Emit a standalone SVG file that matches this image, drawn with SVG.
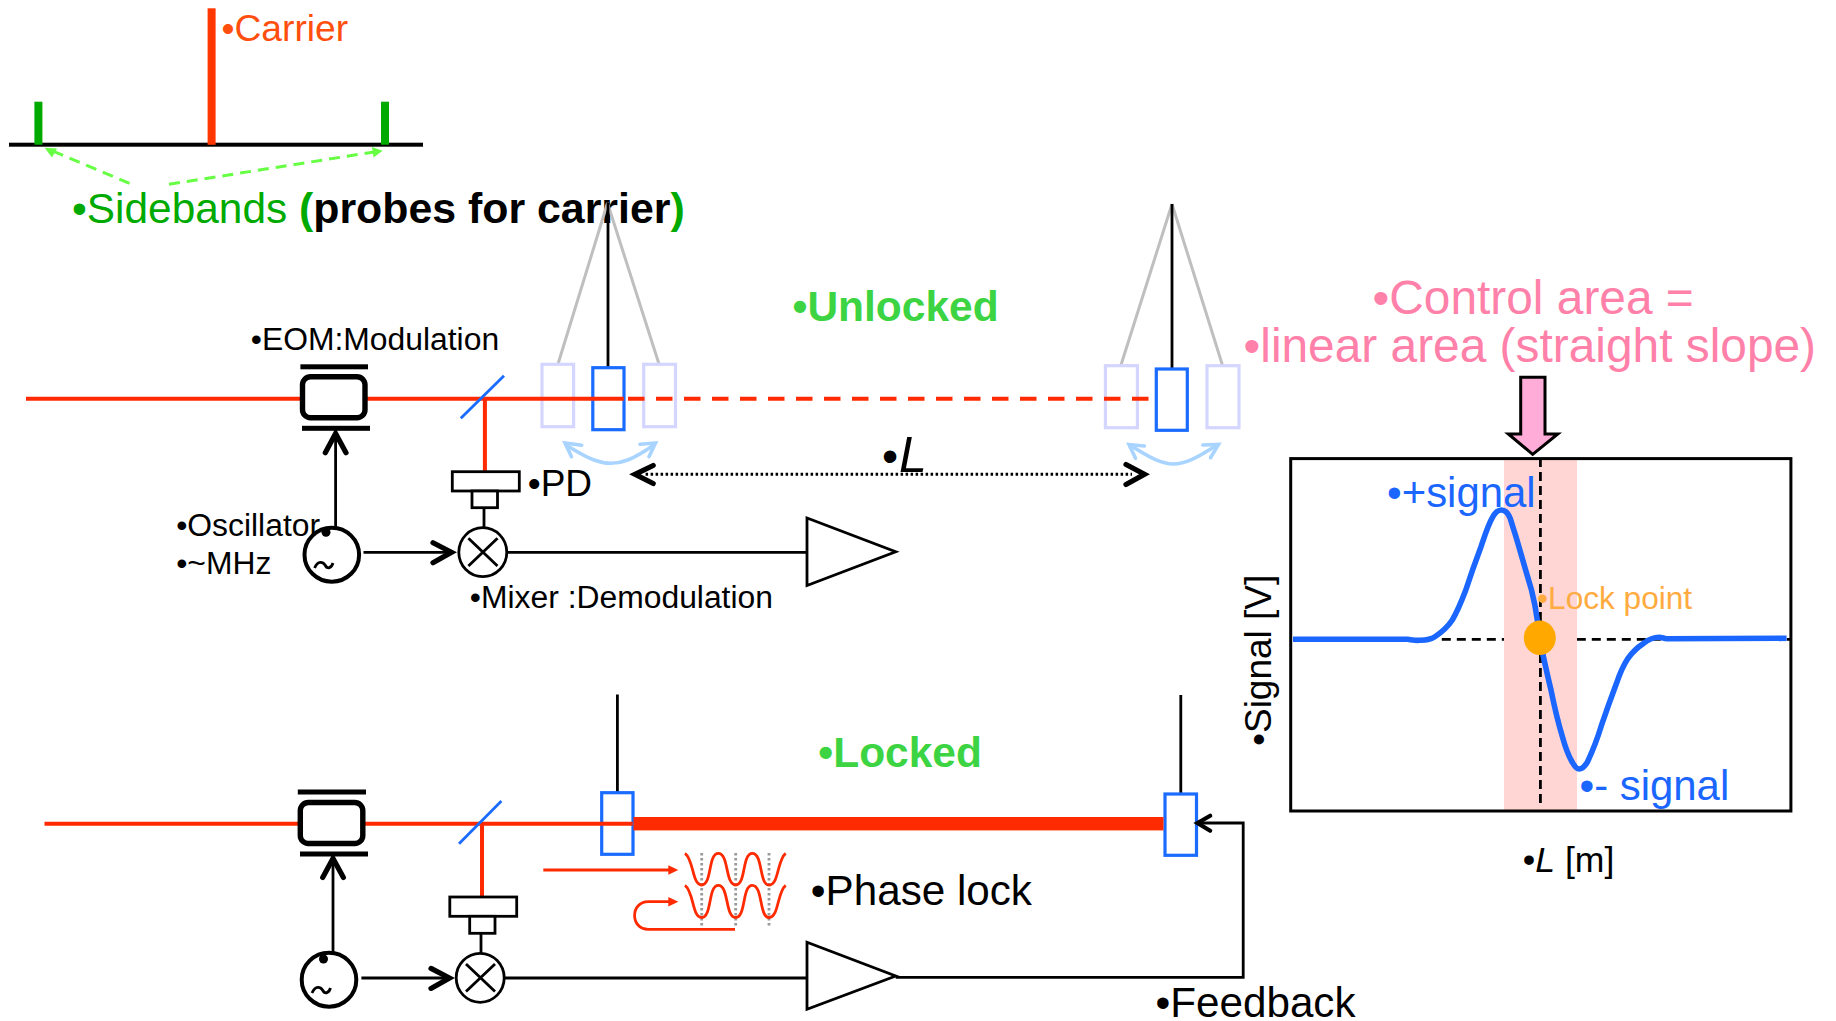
<svg xmlns="http://www.w3.org/2000/svg" width="1836" height="1021" viewBox="0 0 1836 1021">
<style>
text{font-family:"Liberation Sans",Arial,sans-serif;fill:#000}
.k{fill:none;stroke:#000;stroke-width:2.8}
.w{fill:#fff;stroke:#000;stroke-width:2.8}
.chev{fill:none;stroke:#000;stroke-width:5.2;stroke-linecap:round;stroke-linejoin:miter}
.chev2{fill:none;stroke:#000;stroke-width:4.2;stroke-linecap:round}
.red{fill:none;stroke:#ff2a00;stroke-width:4}
.red2{fill:none;stroke:#ff2a00;stroke-width:2.8}
.bs{stroke:#1a6bff;stroke-width:2.8;fill:none}
.mir{fill:none;stroke:#1a6bff;stroke-width:3.2}
.ghost{fill:none;stroke:#d4d6ff;stroke-width:3.2}
.gray{stroke:#bfbfbf;stroke-width:3;fill:none}
.sw{fill:none;stroke:#a8d4ff;stroke-width:3.6;stroke-linecap:round}
.lg{fill:none;stroke:#66ff44;stroke-width:3;stroke-dasharray:11 7}
.dot{fill:none;stroke:#999;stroke-width:2.8;stroke-dasharray:2.5 2.5}
.bar{fill:#000}
.b{font-weight:bold}
.g{fill:#3cd442;font-weight:bold;font-size:42.5px}
.t32{font-size:31.85px}
.t42{font-size:42.2px}
.pink{fill:#ff80a8;font-size:47.85px}
.blue{fill:#1a66ff;font-size:41.9px}
</style>
<g id="spectrum">
<rect x="9" y="142.7" width="414" height="4" fill="#000"/>
<rect x="207.6" y="8.3" width="8" height="136.5" fill="#ff3600"/>
<rect x="34.4" y="101.7" width="8" height="43" fill="#00aa00"/>
<rect x="381" y="101.7" width="8" height="43" fill="#00aa00"/>
<path class="lg" d="M129.5,183.3 L51,150.4"/>
<path class="lg" d="M169,184.3 L374,152"/>
<path fill="#66ff44" d="M44.6,147.7 L57,148.6 L52,157.5Z"/>
<path fill="#66ff44" d="M382.6,150.7 L372,147 L373.5,157.5Z"/>
<text id="carrier-label" x="221.5" y="41" font-size="37.2" style="fill:#ff4e0d">•Carrier</text>
<text id="sidebands-label" x="72" y="223" font-size="42.4" style="fill:#00aa00">•Sidebands <tspan class="b" font-size="42.85">(</tspan><tspan class="b" font-size="42.85" style="fill:#000">probes for carrier</tspan><tspan class="b" font-size="42.85">)</tspan></text>
</g>
<g id="mirrors-unlocked">
<path class="gray" d="M607.5,203 L558,364 M607.5,203 L659,364 M1172,204 L1121,365 M1172,204 L1222.4,365"/>
<path class="k" d="M608,203 V367.7 M1172,204 V369"/>
<rect class="ghost" x="542" y="364.3" width="31.6" height="62.4"/>
<rect class="mir" x="592.8" y="367.7" width="31.2" height="62"/>
<rect class="ghost" x="643.7" y="364.3" width="31.8" height="62.4"/>
<rect class="ghost" x="1105.4" y="365.7" width="32" height="62"/>
<rect class="mir" x="1156.3" y="369" width="31" height="61.3"/>
<rect class="ghost" x="1207" y="365.7" width="32" height="62"/>
</g>
<g id="mirrors-locked">
<path class="k" d="M617.4,694.5 V792.7 M1180.8,695 V794"/>
<rect class="mir" x="601.7" y="792.7" width="31.3" height="61.6"/>
<rect class="mir" x="1165" y="794" width="31.5" height="61.3"/>
</g>
<g id="connectors">
<path class="red" d="M26,398.7 H300 M367,398.7 H623.8 M484.9,398.7 V471.7"/>
<path class="red" d="M628,398.7 H1148.8" stroke-dasharray="16.5 11.5"/>
<path class="bs" d="M460.8,418.3 L504,375.7"/>
<path class="k" d="M335.6,526.7 V434"/>
<path class="chev" d="M325.3,452.7 L335.6,433.5 L346,452.7"/>
<path class="k" d="M363.5,552.3 H450"/>
<path class="chev" d="M433,542.7 L451.5,552.3 L433,562.7"/>
<path class="k" d="M484,507.7 V527.7 M507,552.3 H807"/>
<path class="sw" d="M566,445 C590,460 600,463.3 611,463.3 C622,463.3 632,460 654,445"/>
<path class="sw" d="M581.7,445.3 L565,443 L571.5,456.7 M640,444.3 L655.5,443 L649,456.7"/>
<path class="sw" d="M1130,445 C1150,458 1162,464 1173.5,464 C1185,464 1197,458 1217,445"/>
<path class="sw" d="M1144.3,446 L1129,444.5 L1135.5,458.3 M1202.8,445 L1218.5,444.5 L1210.5,457.7"/>
<path d="M645.6,474.3 H1132" fill="none" stroke="#000" stroke-width="3" stroke-dasharray="2.5 2.5"/>
<path class="chev" d="M653.2,465.5 L635,474.3 L653.2,483.5"/>
<path class="chev" d="M1126,464.5 L1144.5,474.3 L1126,484.5"/>

<path class="red" d="M44.5,823.7 H298 M365,823.7 H632.7 M482,823.7 V896.7"/>
<rect x="633.5" y="817" width="530" height="13.4" fill="#ff2a00"/>
<path class="bs" d="M459,843.7 L501.4,801"/>
<path class="k" d="M333,952 V859"/>
<path class="chev" d="M322.7,877.5 L333,858.5 L343.4,877.5"/>
<path class="k" d="M361.4,978 H448"/>
<path class="chev" d="M431,968.4 L449.5,978 L431,988.4"/>
<path class="k" d="M481,933.3 V953.3 M504.5,978 H807"/>
<path class="k" d="M895.7,977.3 H1243.2 V823 H1198"/>
<path class="chev2" d="M1210.2,815.7 L1197.5,823 L1210.2,830.7"/>

<path class="red2" d="M543.3,870 H669"/>
<path fill="#ff2a00" d="M678.3,870 L668.3,865.3 V874.7Z"/>
<path class="red2" d="M735,929.3 H648.3 C630,929.3 630,901.7 648.3,901.7 H669"/>
<path fill="#ff2a00" d="M678.3,901.7 L668.3,897 V906.4Z"/>
</g>
<g id="fringes">
<path class="dot" d="M701.7,853 V928 M735.7,853 V928 M769,853 V928"/>
<path class="red2" d="M685,853.3 C694,860 692,885 701.7,885 C712,885 708,853.3 718.3,853.3 C729,853.3 725,885 735.7,885 C746,885 742,853.3 752.3,853.3 C763,853.3 759,885 769,885 C779,885 777,860 785.7,853.3"/>
<path class="red2" d="M685,885.3 C694,892 692,917.5 701.7,917.5 C712,917.5 708,885.3 718.3,885.3 C729,885.3 725,917.5 735.7,917.5 C746,917.5 742,885.3 752.3,885.3 C763,885.3 759,917.5 769,917.5 C779,917.5 777,892 785.7,885.3"/>
</g>
<g id="eom-1">
<rect class="bar" x="300.4" y="364.3" width="67.6" height="5"/>
<rect x="302.5" y="376.8" width="62.5" height="41" rx="8" fill="#fff" stroke="#000" stroke-width="5.4"/>
<rect class="bar" x="302" y="425.8" width="68" height="5"/>
</g>
<g id="eom-2">
<rect class="bar" x="297.8" y="789.5" width="68.2" height="5"/>
<rect x="300.3" y="802.5" width="62.5" height="41" rx="8" fill="#fff" stroke="#000" stroke-width="5.4"/>
<rect class="bar" x="300" y="851.5" width="68" height="5"/>
</g>
<g id="pd-1"><rect class="w" x="452.3" y="471.7" width="67" height="19.3"/><rect class="w" x="472" y="491" width="25.5" height="16.7"/></g>
<g id="pd-2"><rect class="w" x="449.8" y="897" width="66.9" height="19.3"/><rect class="w" x="469.7" y="916.3" width="25.3" height="17"/></g>
<g id="mixer-1"><ellipse class="w" cx="482.8" cy="552.2" rx="24" ry="24.5"/><path class="k" d="M468.4,538.3 L497.5,566 M497.5,538.3 L468.4,566"/></g>
<g id="mixer-2"><ellipse class="w" cx="480.2" cy="977.8" rx="24" ry="24.5"/><path class="k" d="M466,964 L495,991.5 M495,964 L466,991.5"/></g>
<g id="osc-1"><ellipse cx="331.8" cy="554.7" rx="27.3" ry="27" fill="none" stroke="#000" stroke-width="4"/><circle cx="326" cy="532.3" r="4.5"/><path class="k" d="M314.6,568 C318,560 323,562 325,565 C327,569 331,569 333,563" stroke-width="2"/></g>
<g id="osc-2"><ellipse cx="329" cy="979.7" rx="27.3" ry="27" fill="none" stroke="#000" stroke-width="4"/><circle cx="323.5" cy="959" r="4.5"/><path class="k" d="M312,993 C315.5,985 320.5,987 322.5,990 C324.5,994 328.5,994 330.5,988" stroke-width="2"/></g>
<g id="amp-1"><path class="w" d="M807,518 V585.5 L895.7,551.7Z"/></g>
<g id="amp-2"><path class="w" d="M807,942.3 V1009.3 L895.7,976Z"/></g>
<g id="plot">
<path d="M1441.8,639.3 H1790" fill="none" stroke="#000" stroke-width="2.8" stroke-dasharray="9 6"/>
<rect x="1504" y="458" width="73" height="353" fill="#ffd6d4"/>
<path d="M1540.4,458 V805" fill="none" stroke="#000" stroke-width="2.8" stroke-dasharray="9 5"/>
<rect x="1290.7" y="458.6" width="500.2" height="352.4" fill="none" stroke="#000" stroke-width="3"/>
<path fill="none" stroke="#1a66ff" stroke-width="5.6" stroke-linejoin="round" d="M1293,639.3 L1407.8,639.3 C1413,640 1416,640.6 1419.4,640.3 C1426,640 1430,640 1434.9,636.7 C1442,632 1447,628 1452.3,620 C1457,612 1462,600 1465.8,590 C1471,574 1476,560 1481,546.7 C1485,535 1488,525 1492.9,516.7 C1495,513 1498,510 1501.4,510 C1505,510 1508,513 1510.2,518.3 C1514,530 1518,543 1521.8,556.7 C1525,568 1528,578 1531.5,590 C1534,600 1536,610 1537.3,620 C1539,632 1541,644 1543,655 C1546,668 1548,678 1551,690 C1554,705 1558,722 1562.4,736.7 C1565,746 1568,755 1572,761.7 C1574,765 1576,769 1579,769 C1582,769 1585,766 1587.6,761.7 C1592,752 1597,740 1601,726.7 C1606,712 1611,698 1616.5,683.3 C1620,673 1623,666 1628,658.3 C1633,651 1638,647 1643.6,643.3 C1648,640 1653,637.3 1659,637.3 C1662,637.3 1664,638.5 1666.8,638.7 L1786.6,638.3"/>
<ellipse cx="1539.8" cy="637.8" rx="16" ry="17.2" fill="#ffa800"/>
<text x="1387" y="507.3" class="blue">•+signal</text>
<text x="1537" y="609" font-size="31.6" style="fill:#ffab40">•Lock point</text>
<text x="1579.5" y="800" class="blue">•- signal</text>
<text x="1522.8" y="871.7" font-size="35.6">•<tspan font-style="italic">L</tspan> [m]</text>
<text transform="translate(1270.6,746) rotate(-90)" font-size="37">•Signal [V]</text>
</g>
<g id="control-arrow"><path d="M1520.7,377.3 H1545 V434 H1557.8 L1532.7,454.3 L1508.3,434 H1520.7Z" fill="#ffacd8" stroke="#000" stroke-width="3"/></g>
<g id="labels">
<text x="250.8" y="350.3" class="t32">•EOM:Modulation</text>
<text x="527.7" y="495.7" font-size="37">•PD</text>
<text x="176.2" y="536" class="t32">•Oscillator</text>
<text x="176.2" y="574.3" class="t32">•~MHz</text>
<text x="469.8" y="608.3" class="t32">•Mixer :Demodulation</text>
<text x="792.5" y="320.7" class="g">•Unlocked</text>
<text x="882" y="471.7" font-size="46">•<tspan font-style="italic" font-size="50" dx="1">L</tspan></text>
<text x="818.3" y="766.7" class="g">•Locked</text>
<text x="810.8" y="905" class="t42">•Phase lock</text>
<text x="1155.5" y="1017" class="t42">•Feedback</text>
<text x="1372.5" y="314.3" class="pink">•Control area =</text>
<text x="1243.5" y="361.7" class="pink">•linear area (straight slope)</text>
</g>
</svg>
